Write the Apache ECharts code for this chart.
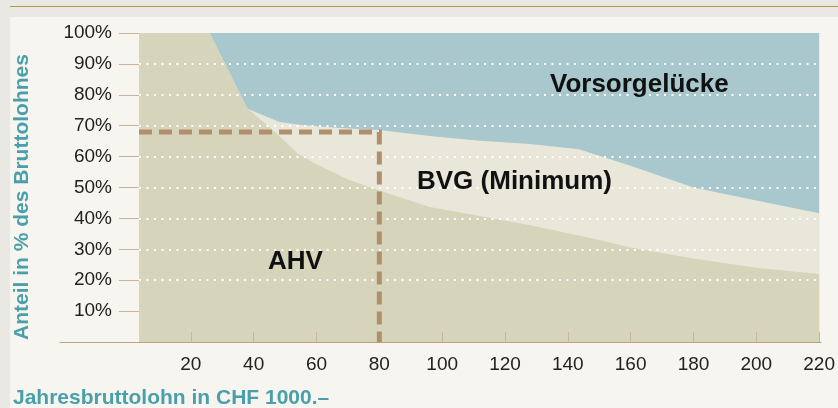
<!DOCTYPE html>
<html>
<head>
<meta charset="utf-8">
<script src="https://cdn.jsdelivr.net/npm/echarts@6/dist/echarts.min.js"></script>
<style>
  html, body { margin: 0; padding: 0; background: #e9e8e2; }
  #chart { width: 838px; height: 408px; }
</style>
</head>
<body>
<div id="chart"></div>
<script>
// Jahresbruttolohn in CHF 1000.- (x) und Anteil in % des Bruttolohnes (y)
var salary      = [3.5, 26, 38, 44, 48, 54, 60, 70, 80, 96, 112, 128, 143.5, 150, 160, 180, 200, 220];
var ahvShare    = [100, 100, 75.5, 70.5, 66.8, 61, 57.5, 52.6, 49, 43.7, 40.8, 37.8, 34.5, 33, 30.6, 27, 24, 22];
var totalShare  = [100, 100, 75.5, 73, 71.3, 70.4, 69.8, 69.1, 68.6, 66.7, 65.1, 64.1, 62.4, 60.3, 57, 50, 45.8, 41.7];
var fullShare   = [100, 100, 100, 100, 100, 100, 100, 100, 100, 100, 100, 100, 100, 100, 100, 100, 100, 100];

// Beispiel: 80'000 CHF -> 68 %
var markerX = [3.5, 80, 80];
var markerY = [68, 68, 0];

var xTicks = [20, 40, 60, 80, 100, 120, 140, 160, 180, 200, 220];
var yTicks = [10, 20, 30, 40, 50, 60, 70, 80, 90, 100];

function pairs(xs, ys) {
    return xs.map(function (x, i) { return [x, ys[i]]; });
}

var chart = echarts.init(document.getElementById('chart'));

var areaSeries = function (name, data, color) {
    return {
        name: name,
        type: 'line',
        data: data,
        showSymbol: false,
        symbol: 'none',
        silent: true,
        animation: false,
        z: 2,
        lineStyle: { width: 0 },
        areaStyle: { color: color, opacity: 1 }
    };
};

var option = {
    animation: false,
    backgroundColor: 'transparent',
    textStyle: { fontFamily: 'Liberation Sans, Arial, sans-serif' },
    graphic: [
        { type: 'rect', z: -10, shape: { x: 10, y: 17, width: 828, height: 391 }, style: { fill: '#f6f5ef' } },
        { type: 'line', z: -10, shape: { x1: 10, y1: 6.5, x2: 838, y2: 6.5 }, style: { stroke: '#b8914f', lineWidth: 1 } },
        { type: 'text', z: 10, x: 550, y: 85,
          style: { text: 'Vorsorgelücke', font: 'bold 26px Liberation Sans', fill: '#111', verticalAlign: 'middle' } },
        { type: 'text', z: 10, x: 417, y: 182,
          style: { text: 'BVG (Minimum)', font: 'bold 26px Liberation Sans', fill: '#111', verticalAlign: 'middle' } },
        { type: 'text', z: 10, x: 268, y: 262,
          style: { text: 'AHV', font: 'bold 26px Liberation Sans', fill: '#111', verticalAlign: 'middle' } },
        { type: 'text', z: 10, x: 22, y: 197, rotation: Math.PI / 2,
          style: { text: 'Anteil in % des Bruttolohnes', font: 'bold 21px Liberation Sans', fill: '#4aa0aa',
                   align: 'center', verticalAlign: 'middle' } },
        { type: 'text', z: 10, x: 13, y: 398,
          style: { text: 'Jahresbruttolohn in CHF 1000.–', font: 'bold 21px Liberation Sans', fill: '#4aa0aa',
                   verticalAlign: 'middle' } }
    ],
    grid: [
        { left: 139, right: 17, top: 33, bottom: 66 },
        { left: 60, right: 17, top: 33, bottom: 66 }
    ],
    xAxis: [
        {
            type: 'value', gridIndex: 0, min: 3.5, max: 220, z: 3,
            axisLine: { show: true, lineStyle: { color: '#c0a07f', width: 1 } },
            axisTick: { show: true, inside: true, length: 10, customValues: xTicks,
                        lineStyle: { color: '#c9b69c', width: 1 } },
            axisLabel: { show: true, customValues: xTicks, margin: 13, fontSize: 19, color: '#222' },
            splitLine: { show: false }
        },
        {
            type: 'value', gridIndex: 1, min: -21.6, max: 220,
            axisLine: { show: true, lineStyle: { color: '#c0a07f', width: 1 } },
            axisTick: { show: false }, axisLabel: { show: false }, splitLine: { show: false }
        }
    ],
    yAxis: [
        {
            type: 'value', gridIndex: 0, min: 0, max: 100, z: 3,
            axisLine: { show: false },
            axisTick: { show: true, length: 20, customValues: yTicks,
                        lineStyle: { color: '#c9b49a', width: 1 } },
            axisLabel: { customValues: yTicks, margin: 27, fontSize: 19, color: '#222',
                         formatter: function (v) { return v + '%'; } },
            splitLine: { show: true, showMinLine: false, showMaxLine: false,
                         lineStyle: { color: '#ffffff', width: 2, type: [2, 5.5] } }
        },
        { type: 'value', gridIndex: 1, min: 0, max: 100, show: false }
    ],
    series: [
        areaSeries('Vorsorgelücke', pairs(salary, fullShare), '#a8c8cd'),
        areaSeries('BVG (Minimum)', pairs(salary, totalShare), '#e9e7da'),
        areaSeries('AHV', pairs(salary, ahvShare), '#d6d4bb'),
        {
            name: 'Beispiel',
            type: 'line',
            data: pairs(markerX, markerY),
            symbol: 'none',
            silent: true,
            z: 5,
            lineStyle: { color: '#b08f6c', width: 5, type: [13, 7], cap: 'butt', join: 'miter' }
        }
    ]
};

chart.setOption(option);
</script>
</body>
</html>
